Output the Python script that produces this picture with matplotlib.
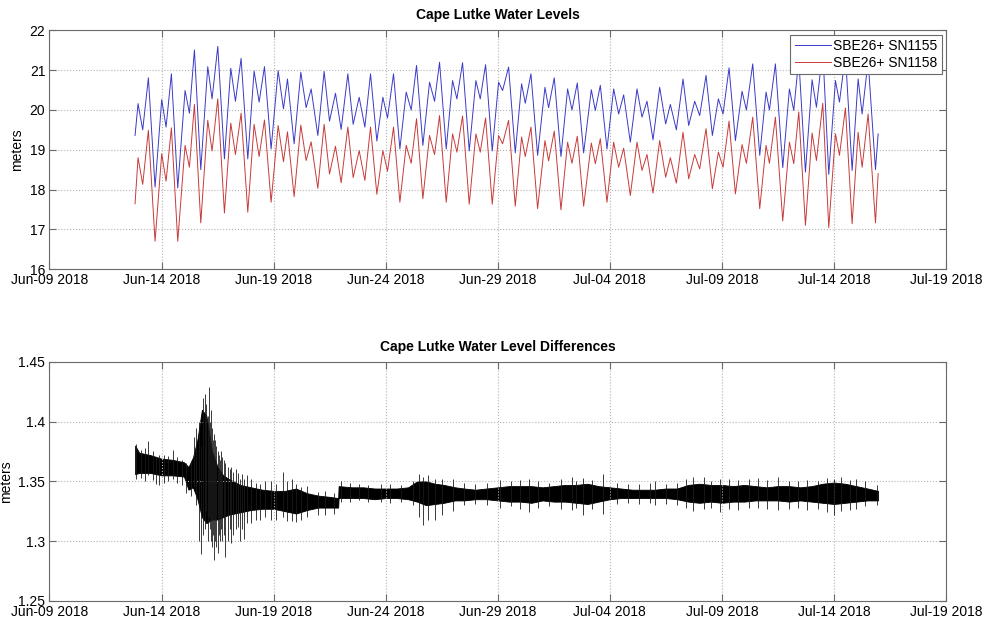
import numpy as np
import pandas as pd
import matplotlib
matplotlib.use('Agg')
import matplotlib.pyplot as plt
import matplotlib.dates as mdates
from matplotlib.ticker import FuncFormatter, MultipleLocator

# time origin for all the "days" lists below
start = pd.Timestamp('2018-06-09')

# high / low water turning points (days since Jun-09)
ext_days = [3.817, 3.951, 4.159, 4.412, 4.710, 5.007, 5.201, 5.439, 5.722, 6.049,
            6.243, 6.466, 6.749, 7.061, 7.254, 7.508, 7.805, 8.088, 8.296, 8.549,
            8.847, 9.129, 9.353, 9.591, 9.888, 10.201, 10.439, 10.618, 10.915, 11.213,
            11.451, 11.674, 11.972, 12.254, 12.493, 12.760, 13.013, 13.311, 13.549, 13.817,
            14.070, 14.323, 14.606, 14.874, 15.082, 15.350, 15.633, 15.915, 16.138, 16.376,
            16.659, 16.957, 17.180, 17.403, 17.701, 17.984, 18.177, 18.430, 18.728, 19.025,
            19.219, 19.457, 19.754, 20.037, 20.216, 20.484, 20.781, 21.064, 21.228, 21.481,
            21.778, 22.106, 22.269, 22.522, 22.820, 23.117, 23.311, 23.549, 23.832, 24.174,
            24.353, 24.576, 24.874, 25.171, 25.394, 25.618, 25.915, 26.213, 26.436, 26.659,
            26.927, 27.224, 27.492, 27.701, 27.969, 28.266, 28.519, 28.787, 29.010, 29.293,
            29.576, 29.844, 30.052, 30.320, 30.603, 30.901, 31.094, 31.376, 31.689, 31.971,
            32.121, 32.388, 32.716, 33.013, 33.207, 33.430, 33.728, 34.025, 34.219, 34.501,
            34.769, 35.067, 35.246, 35.513, 35.811, 36.079, 36.257, 36.525, 36.853, 36.972]

sn1155 = [19.36, 20.16, 19.50, 20.81, 18.06, 20.26, 19.57, 20.91, 18.04, 20.49,
          19.92, 21.51, 18.50, 21.09, 20.28, 21.60, 18.77, 21.05, 20.22, 21.30,
          18.77, 20.98, 20.20, 21.09, 19.02, 20.99, 20.03, 20.78, 19.15, 20.95,
          20.06, 20.53, 19.36, 20.97, 19.72, 20.42, 19.51, 20.91, 19.64, 20.32,
          19.57, 20.91, 19.22, 20.32, 19.80, 20.91, 19.02, 20.45, 20.00, 21.12,
          19.11, 20.70, 20.22, 21.20, 19.02, 20.74, 20.28, 21.19, 18.97, 20.74,
          20.28, 21.14, 18.97, 20.70, 20.49, 21.08, 18.92, 20.66, 20.17, 20.91,
          18.86, 20.57, 20.06, 20.81, 18.83, 20.53, 20.00, 20.68, 18.92, 20.51,
          19.99, 20.62, 19.02, 20.53, 19.90, 20.38, 19.19, 20.53, 19.82, 20.22,
          19.25, 20.57, 19.65, 20.14, 19.50, 20.78, 19.61, 20.22, 19.86, 20.87,
          19.36, 20.28, 19.90, 21.06, 19.23, 20.47, 20.00, 21.16, 18.86, 20.45,
          20.00, 21.16, 18.55, 20.53, 19.99, 21.29, 18.44, 20.76, 20.07, 21.51,
          18.38, 20.74, 20.20, 21.39, 18.48, 20.78, 19.90, 21.24, 18.50, 19.40]

sn1158 = [17.64, 18.80, 18.13, 19.49, 16.70, 18.90, 18.21, 19.55, 16.70, 19.11,
          18.56, 20.14, 17.16, 19.74, 18.97, 20.28, 17.41, 19.67, 18.88, 19.92,
          17.43, 19.64, 18.83, 19.75, 17.68, 19.61, 18.70, 19.45, 17.82, 19.62,
          18.73, 19.20, 18.03, 19.64, 18.39, 19.09, 18.17, 19.57, 18.30, 18.98,
          18.23, 19.57, 17.88, 18.98, 18.46, 19.57, 17.68, 19.11, 18.66, 19.78,
          17.77, 19.36, 18.88, 19.86, 17.68, 19.40, 18.94, 19.85, 17.63, 19.40,
          18.94, 19.80, 17.63, 19.36, 19.15, 19.74, 17.58, 19.32, 18.83, 19.57,
          17.52, 19.23, 18.72, 19.47, 17.49, 19.19, 18.66, 19.34, 17.58, 19.17,
          18.65, 19.28, 17.68, 19.19, 18.56, 19.04, 17.85, 19.19, 18.48, 18.88,
          17.91, 19.23, 18.31, 18.80, 18.16, 19.44, 18.27, 18.88, 18.52, 19.53,
          18.02, 18.94, 18.56, 19.72, 17.89, 19.13, 18.66, 19.82, 17.52, 19.11,
          18.66, 19.82, 17.21, 19.19, 18.65, 19.95, 17.10, 19.42, 18.73, 20.17,
          17.04, 19.40, 18.86, 20.05, 17.14, 19.44, 18.56, 19.90, 17.16, 18.40]

# difference panel: dense band (lower / upper edge)
diff_days = [3.82, 4.0, 4.5, 5.0, 5.5, 6.0, 6.2, 6.4, 6.6, 6.8,
             7.0, 7.25, 7.5, 7.75, 8.0, 8.5, 9.0, 9.5, 10.0, 10.5,
             11.0, 11.5, 12.0, 12.5, 12.88, 12.9, 13.5, 14.0, 14.5, 15.0,
             15.5, 16.0, 16.4, 16.8, 17.2, 17.6, 18.1, 18.5, 19.0, 19.5,
             20.0, 20.5, 21.0, 21.5, 22.0, 22.5, 23.0, 23.5, 24.0, 24.5,
             25.0, 25.5, 26.0, 26.5, 27.0, 27.5, 28.0, 28.5, 29.0, 29.5,
             30.0, 30.5, 31.0, 31.5, 32.0, 32.5, 33.0, 33.5, 34.0, 34.5,
             35.0, 35.5, 36.0, 36.5, 36.97]
diff_lo = [1.356, 1.357, 1.357, 1.355, 1.355, 1.354, 1.343, 1.345, 1.335, 1.320,
           1.315, 1.318, 1.318, 1.320, 1.322, 1.324, 1.326, 1.327, 1.327, 1.325,
           1.323, 1.326, 1.328, 1.328, 1.328, 1.336, 1.336, 1.336, 1.335, 1.336,
           1.336, 1.335, 1.333, 1.330, 1.331, 1.332, 1.334, 1.334, 1.335, 1.335,
           1.334, 1.333, 1.333, 1.332, 1.334, 1.333, 1.333, 1.332, 1.331, 1.333,
           1.335, 1.336, 1.336, 1.336, 1.336, 1.336, 1.335, 1.333, 1.332, 1.333,
           1.332, 1.333, 1.333, 1.334, 1.334, 1.334, 1.333, 1.334, 1.333, 1.332,
           1.331, 1.332, 1.333, 1.334, 1.334]
diff_hi = [1.380, 1.374, 1.372, 1.369, 1.368, 1.366, 1.362, 1.370, 1.385, 1.410,
           1.405, 1.375, 1.362, 1.355, 1.352, 1.347, 1.345, 1.343, 1.342, 1.342,
           1.344, 1.340, 1.338, 1.337, 1.336, 1.346, 1.345, 1.345, 1.344, 1.344,
           1.344, 1.345, 1.350, 1.350, 1.348, 1.347, 1.345, 1.344, 1.343, 1.344,
           1.345, 1.346, 1.346, 1.346, 1.345, 1.346, 1.347, 1.347, 1.348, 1.346,
           1.345, 1.344, 1.343, 1.343, 1.343, 1.344, 1.344, 1.347, 1.348, 1.347,
           1.347, 1.346, 1.347, 1.346, 1.345, 1.346, 1.346, 1.345, 1.346, 1.348,
           1.349, 1.348, 1.346, 1.344, 1.342]

# single spikes sticking out of the band
spike_days = [3.85, 4.1, 4.25, 4.4, 4.6, 4.75, 4.9, 5.1, 5.3, 5.5,
              5.7, 5.9, 6.1, 6.3, 6.45, 6.55, 6.65, 6.75, 6.85, 6.95,
              7.0, 7.05, 7.1, 7.15, 7.2, 7.25, 7.3, 7.35, 7.4, 7.45,
              7.5, 7.55, 7.6, 7.65, 7.7, 7.8, 7.85, 7.95, 8.05, 8.1,
              8.2, 8.3, 8.4, 8.5, 8.6, 8.7, 8.8, 9.0, 9.2, 9.4,
              9.6, 9.9, 10.1, 10.4, 10.6, 10.8, 11.0, 11.2, 11.5, 12.0,
              12.3, 12.7, 13.0, 13.4, 13.8, 14.2, 14.8, 15.2, 15.7, 16.2,
              16.5, 16.65, 16.9, 17.2, 17.5, 18.0, 18.5, 19.0, 19.5, 20.1,
              20.6, 21.0, 21.4, 21.8, 22.3, 22.8, 23.3, 23.5, 23.8, 24.2,
              24.7, 25.3, 25.8, 26.3, 26.8, 27.0, 27.5, 28.0, 28.4, 28.7,
              29.2, 29.5, 29.9, 30.3, 30.7, 31.2, 31.6, 32.0, 32.5, 33.0,
              33.4, 33.8, 34.3, 34.7, 35.0, 35.3, 35.7, 36.0, 36.4, 36.9]
spike_lo = [1.352, 1.353, 1.350, 1.355, 1.351, 1.348, 1.347, 1.349, 1.350, 1.352,
            1.349, 1.347, 1.340, 1.338, 1.345, 1.330, 1.300, 1.289, 1.305, 1.310,
            1.325, 1.300, 1.320, 1.310, 1.300, 1.295, 1.305, 1.284, 1.300, 1.295,
            1.290, 1.305, 1.300, 1.310, 1.300, 1.305, 1.287, 1.300, 1.310, 1.298,
            1.305, 1.310, 1.312, 1.300, 1.310, 1.302, 1.315, 1.315, 1.318, 1.318,
            1.320, 1.318, 1.318, 1.320, 1.317, 1.317, 1.316, 1.318, 1.320, 1.322,
            1.322, 1.323, 1.333, 1.333, 1.334, 1.333, 1.333, 1.332, 1.333, 1.330,
            1.320, 1.313, 1.318, 1.318, 1.322, 1.325, 1.330, 1.331, 1.330, 1.328,
            1.329, 1.327, 1.324, 1.328, 1.329, 1.327, 1.326, 1.328, 1.322, 1.327,
            1.323, 1.331, 1.332, 1.331, 1.332, 1.330, 1.331, 1.330, 1.328, 1.325,
            1.327, 1.328, 1.324, 1.327, 1.326, 1.328, 1.328, 1.327, 1.326, 1.327,
            1.328, 1.326, 1.327, 1.324, 1.322, 1.325, 1.326, 1.327, 1.329, 1.330]
spike_hi = [1.381, 1.376, 1.378, 1.384, 1.375, 1.370, 1.372, 1.372, 1.371, 1.376,
            1.370, 1.368, 1.365, 1.366, 1.387, 1.395, 1.400, 1.380, 1.420, 1.423,
            1.415, 1.405, 1.429, 1.400, 1.410, 1.395, 1.385, 1.390, 1.385, 1.380,
            1.375, 1.372, 1.368, 1.375, 1.370, 1.368, 1.365, 1.362, 1.360, 1.362,
            1.358, 1.360, 1.357, 1.352, 1.356, 1.352, 1.355, 1.352, 1.349, 1.348,
            1.350, 1.350, 1.348, 1.358, 1.350, 1.352, 1.348, 1.345, 1.346, 1.341,
            1.342, 1.340, 1.350, 1.349, 1.348, 1.347, 1.348, 1.348, 1.347, 1.350,
            1.356, 1.354, 1.355, 1.352, 1.352, 1.352, 1.349, 1.348, 1.349, 1.351,
            1.350, 1.351, 1.352, 1.350, 1.349, 1.352, 1.354, 1.350, 1.353, 1.351,
            1.356, 1.349, 1.348, 1.348, 1.349, 1.350, 1.348, 1.349, 1.352, 1.354,
            1.354, 1.350, 1.352, 1.352, 1.351, 1.352, 1.353, 1.351, 1.354, 1.350,
            1.350, 1.351, 1.350, 1.353, 1.352, 1.354, 1.351, 1.352, 1.350, 1.347]


def to_time(days):
    return start + pd.to_timedelta(np.asarray(days, dtype=float), unit='D')


plt.rcParams['font.family'] = ['Liberation Sans', 'DejaVu Sans']
plt.rcParams['font.size'] = 10

fig = plt.figure(figsize=(9.88, 6.21), dpi=100)
ax1 = fig.add_axes([0.0501, 0.5668, 0.9074, 0.3841])
ax2 = fig.add_axes([0.0501, 0.0327, 0.9074, 0.3844])

edge = '#6a6a6a'


def style_axes(ax):
    ax.set_xlim(start, start + pd.Timedelta(days=40))
    ax.set_xticks(to_time(range(0, 41, 5)))
    ax.xaxis.set_major_formatter(mdates.DateFormatter('%b-%d %Y'))
    ax.yaxis.set_major_formatter(FuncFormatter(lambda v, p: f'{v:g}'))
    ax.tick_params(direction='in', top=True, right=True, length=5,
                   color=edge, labelcolor='black', pad=3)
    ax.grid(True, linestyle=':', color='#b4b4b4', linewidth=0.8)
    for s in ax.spines.values():
        s.set_color(edge)
        s.set_linewidth(0.8)
    ax.set_ylabel('meters', labelpad=4)


# top: water levels
t = to_time(ext_days)
ax1.plot(t, sn1155, color='#3a3ac8', lw=0.7, label='SBE26+ SN1155')
ax1.plot(t, sn1158, color='#c83a3a', lw=0.7, label='SBE26+ SN1158')
ax1.set_ylim(16, 22)
ax1.yaxis.set_major_locator(MultipleLocator(1))
style_axes(ax1)
ax1.set_title('Cape Lutke Water Levels', fontweight='bold', fontsize=10, pad=8)
leg = ax1.legend(loc='upper right', fancybox=False, edgecolor=edge, framealpha=1,
                 borderpad=0.3, handlelength=2.6, labelspacing=0.25,
                 borderaxespad=0.3, handletextpad=0.2)
leg.get_frame().set_linewidth(0.8)

# bottom: difference
ax2.fill_between(to_time(diff_days), diff_lo, diff_hi, color='black', lw=0.6)
ax2.vlines(to_time(spike_days), spike_lo, spike_hi, color='#1a1a1a', lw=0.6)
ax2.set_ylim(1.25, 1.45)
ax2.yaxis.set_major_locator(MultipleLocator(0.05))
style_axes(ax2)
ax2.set_title('Cape Lutke Water Level Differences', fontweight='bold', fontsize=10, pad=8)

fig.savefig('out.png', dpi=100)
